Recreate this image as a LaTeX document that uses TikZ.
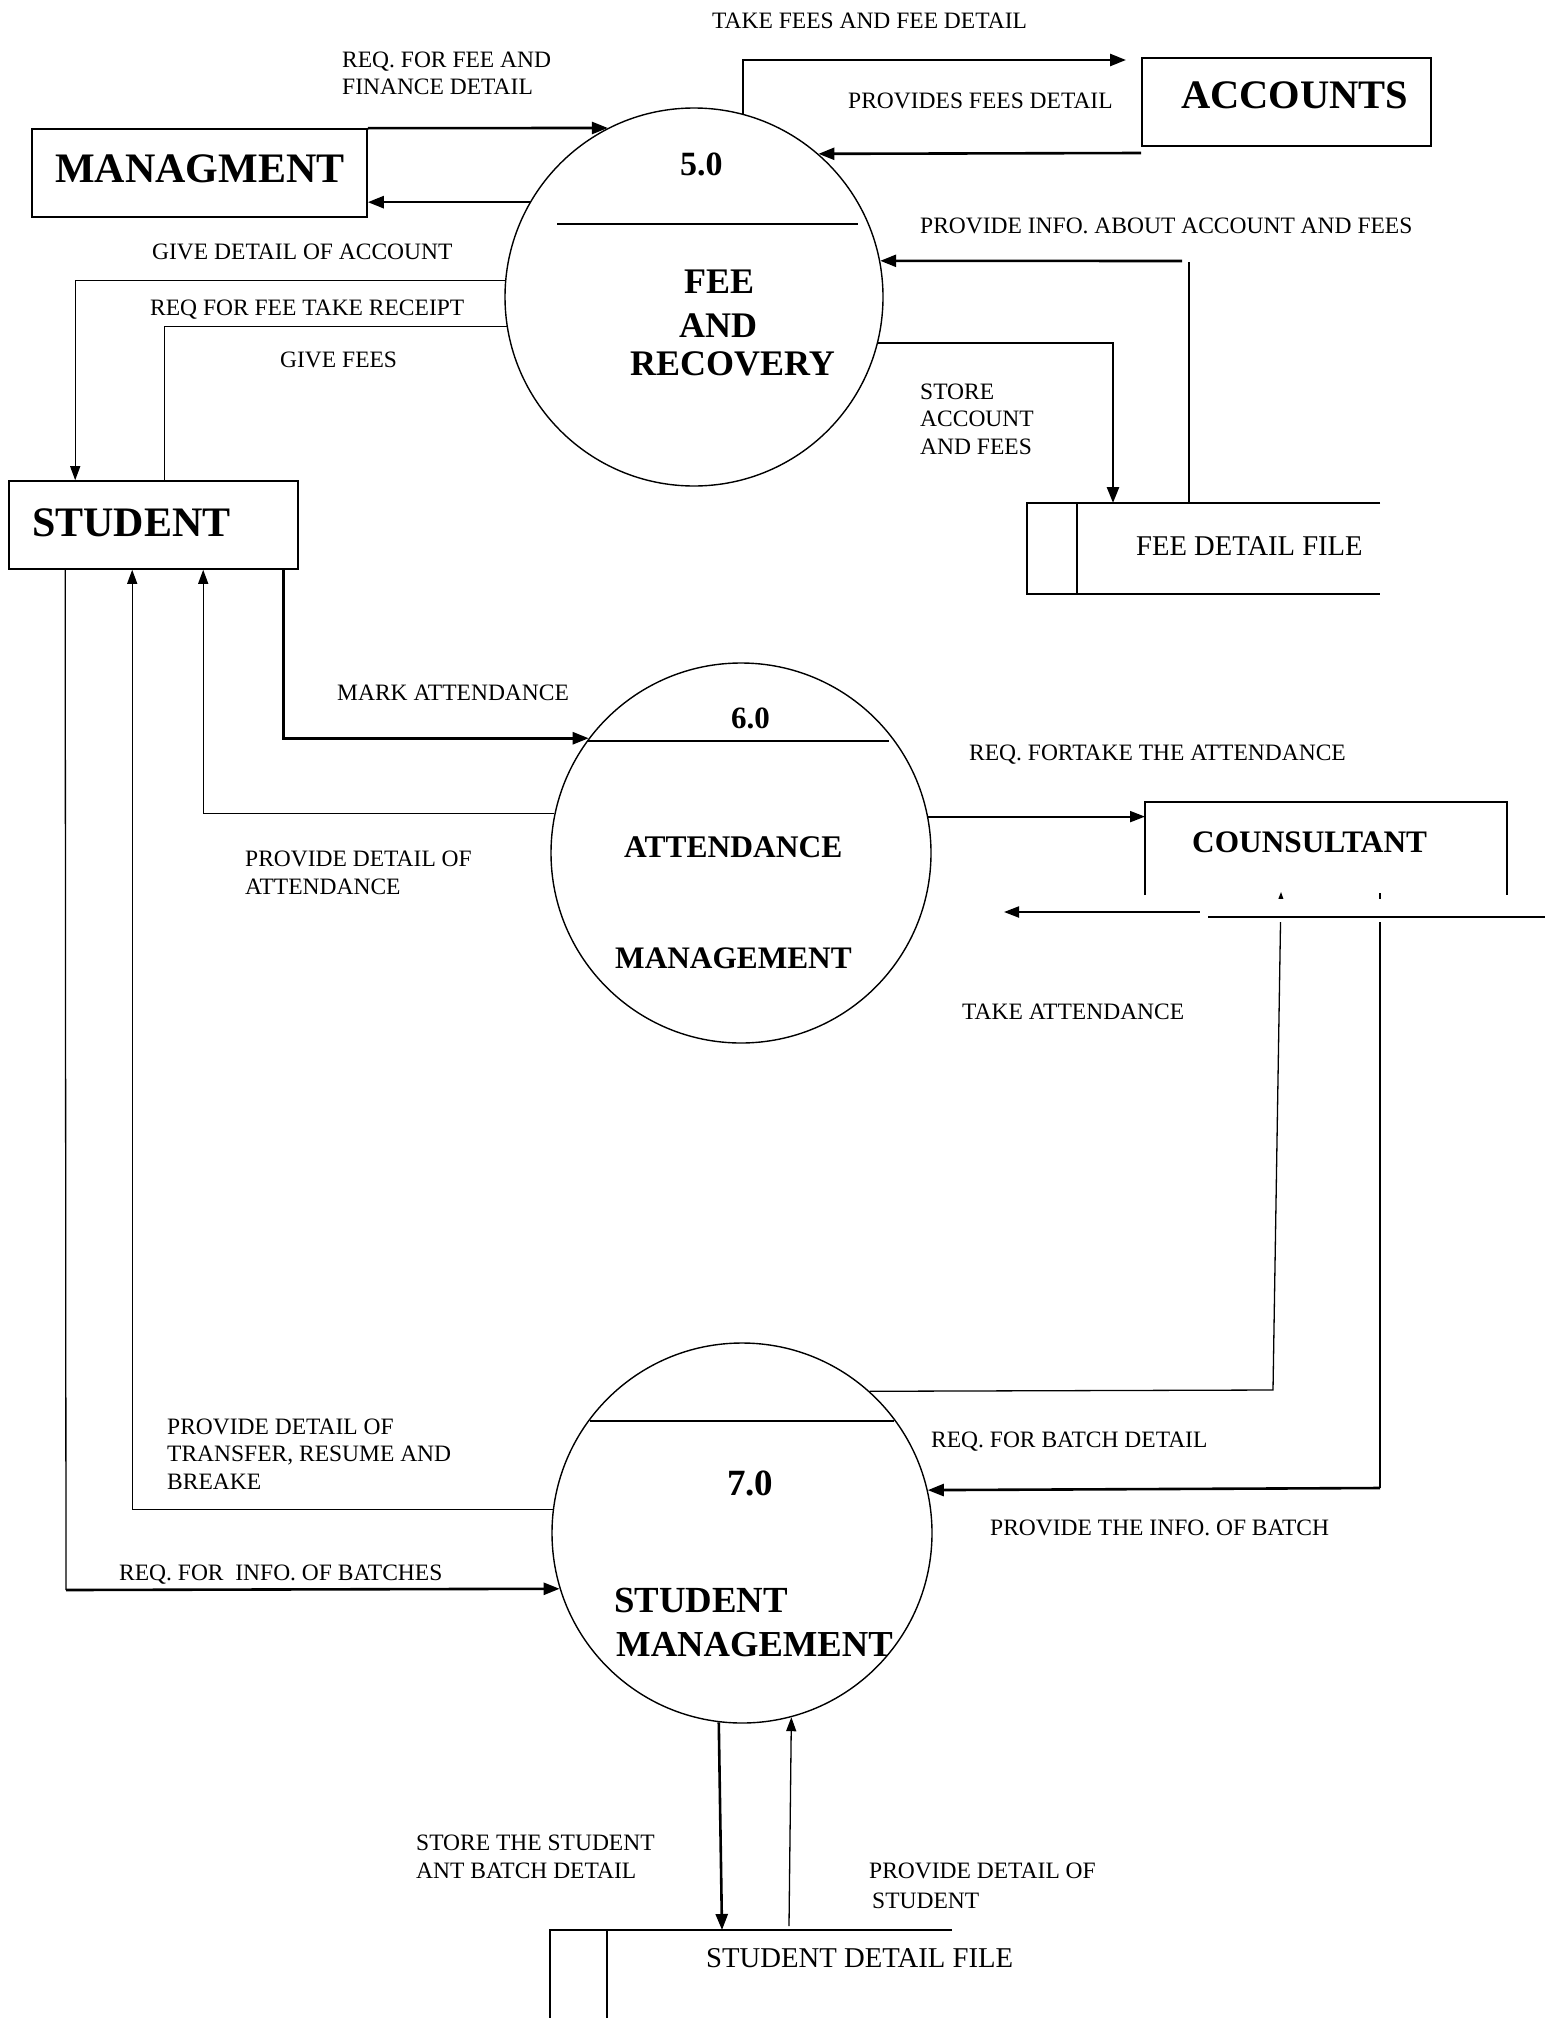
\documentclass[tikz,border=0pt]{standalone}
\usepackage{fontspec}
\setmainfont{Liberation Serif}
\usetikzlibrary{arrows.meta,calc}

\begin{document}
\begin{tikzpicture}[x=1pt,y=-1pt,
  % multi-line labels are placed by the baseline of their last line
  lbl/.style={inner sep=0pt, anchor=base west, align=left,
              font=\fontsize{23.5}{27.5}\selectfont},
  filetext/.style={inner sep=0pt, anchor=base west, font=\fontsize{28.6}{32}\selectfont},
  enttext/.style={inner sep=0pt, anchor=base west, font=\bfseries\fontsize{#1}{#1}\selectfont},
  entbox/.style={draw, line width=1.6pt, inner sep=0pt},
  shapeonly/.style={inner sep=0pt, outer sep=0pt},
  proc/.style={draw, circle, line width=1.4pt, inner sep=0pt},
  thinflow/.style={line width=1.3pt, -{Triangle[length=14pt,width=10pt]}},
  thinline/.style={line width=1.3pt},
  midflow/.style={line width=2pt, -{Triangle[length=15pt,width=11pt]}},
  heavyflow/.style={line width=2.6pt, -{Triangle[length=16pt,width=12pt]}},
  storeline/.style={line width=1.6pt},
]
\fill[white] (0,0) rectangle (1545,2018);
\useasboundingbox (0,0) rectangle (1545,2018);

% ---------- processes ----------
\node[proc, minimum size=378pt] (p5) at (694,297) {};
\node[proc, minimum size=380pt] (p6) at (741,853) {};
\node[proc, minimum size=380pt] (p7) at (742,1533) {};
\draw[thinline] (557,224) -- (858,224);
\draw[thinline] (587,741) -- (889,741);
\draw[thinline] (590,1421) -- (894,1421);

\node[enttext=34] (p5num) at (680,175) {5.0};
\node[enttext=36] (p5a) at (684,293) {FEE};
\node[enttext=36] (p5b) at (679,337) {AND};
\node[enttext=36] (p5c) at (630,375) {RECOVERY};

\node[enttext=31] (p6num) at (731,728) {6.0};
\node[enttext=31.5] (p6a) at (624,857) {ATTENDANCE};
\node[enttext=31.3] (p6b) at (615,968) {MANAGEMENT};

\node[enttext=37] (p7num) at (727,1495) {7.0};
\node[enttext=36.8] (p7a) at (614,1612) {STUDENT};
\node[enttext=36.6] (p7b) at (616,1656) {MANAGEMENT};

% ---------- external entities ----------
\node[entbox, minimum width=335pt, minimum height=88pt] (mgmt) at (199.5,173) {};
\node[enttext=42] (mgmtt) at (55,182) {MANAGMENT};

\node[entbox, minimum width=289pt, minimum height=88pt] (acc) at (1286.5,102) {};
\node[enttext=40.5] (acct) at (1181,108) {ACCOUNTS};

\node[entbox, minimum width=289pt, minimum height=88pt] (stud) at (153.5,525) {};
\node[enttext=42] (studt) at (32,536) {STUDENT};

\node[shapeonly, minimum width=362pt, minimum height=93pt] (couns) at (1326,848.5) {};
\node[enttext=31.3] (counst) at (1192,852) {COUNSULTANT};

% ---------- data stores ----------
\node[shapeonly, minimum width=353pt, minimum height=91pt] (feefile) at (1203.5,548.5) {};
\draw[storeline] (feefile.north east) -- (feefile.north west) -- (feefile.south west) -- (feefile.south east);
\draw[storeline] ($(feefile.north west)+(50,0)$) -- ($(feefile.south west)+(50,0)$);
\node[filetext] (feefilet) at (1136,555) {FEE DETAIL FILE};

\node[shapeonly, minimum width=402pt, minimum height=90pt] (studfile) at (751,1975) {};
\draw[storeline] (studfile.north east) -- (studfile.north west) -- (550,2018);
\draw[storeline] ($(studfile.north west)+(57,0)$) -- (607,2018);
\node[filetext, font=\fontsize{28.7}{32}\selectfont] (studfilet) at (706,1967) {STUDENT DETAIL FILE};

% ---------- flows around 5.0 ----------
\coordinate (accin) at (1126,60);
\draw[heavyflow] (p5.75.6) |- (accin);
\coordinate (accout) at (1141,153);
\draw[heavyflow] (accout) -- (p5.49.7);
\draw[heavyflow] (mgmt.north east) -- (p5.117.3);
\draw[heavyflow] (p5.150.5) -- (p5.150.5 -| mgmt.east);
\draw[thinflow] (p5.175.45) -| ($(stud.north west)+(67,0)$);
\draw[thinline] ($(stud.north west)+(156,0)$) |- (p5.189.75);
\draw[heavyflow] (p5.-14.1) -| ($(feefile.north west)+(86,0)$);
\coordinate (feeturn) at (1189,262);
\draw[thinline] ($(feefile.north west)+(162,0)$) -- (feeturn);
\coordinate (feeback) at (1182,261);
\draw[heavyflow] (feeback) -- (p5.11);

% ---------- flows around 6.0 ----------
\draw[heavyflow] ($(stud.south west)+(275,0)$) |- (p6.143.9);
\draw[thinflow] (p6.168.8) -| ($(stud.south west)+(195,0)$);
\draw[midflow] (p6.11.2) -- (p6.11.2 -| couns.west);
\coordinate (takeS) at (1209,912);
\coordinate (takeE) at (1004,912);
\draw[midflow] (takeS) -- (takeE);

% ---------- flows around 7.0 ----------
\coordinate (batchturn) at (1273,1390);
\coordinate (batchtop) at (1281,892);
\draw[thinflow] (p7.48.8) -- (batchturn) -- (batchtop);
\coordinate (infotop) at (1380,893);
\coordinate (infoturn) at (1380,1488);
\draw[thinline] (infotop) -- (infoturn);
\draw[heavyflow] (infoturn) -- (p7.13.7);
\draw[thinflow] (p7.173.35) -| ($(stud.south west)+(124,0)$);
\coordinate (batchcorner) at (66,1590);
\draw[thinline] ($(stud.south west)+(57,0)$) -- (batchcorner);
\draw[heavyflow] (batchcorner) -- (p7.197.5);
\draw[heavyflow] (p7.-97.9) -- ($(studfile.north west)+(172,0)$);
\draw[thinflow] ($(studfile.north west)+(239,-4)$) -- (p7.-75.7);

% ---------- counsultant outline ----------
\fill[white] (1200,899) rectangle (1545,922);
\draw[line width=1.5pt] (couns.south west) -- (couns.north west) -- (couns.north east) -- (couns.south east);
\draw[line width=1.8pt] (1208,917) -- (1545,917);

% ---------- flow labels ----------
\node[lbl] (l1) at (712,29) {TAKE FEES AND FEE DETAIL};
\node[lbl] (l2) at (342,95) {REQ. FOR FEE AND\\FINANCE DETAIL};
\node[lbl] (l3) at (848,108) {PROVIDES FEES DETAIL};
\node[lbl] (l4) at (152,259) {GIVE DETAIL OF ACCOUNT};
\node[lbl] (l5) at (920,233) {PROVIDE INFO. ABOUT ACCOUNT AND FEES};
\node[lbl] (l6) at (150,315) {REQ FOR FEE TAKE RECEIPT};
\node[lbl] (l7) at (280,367) {GIVE FEES};
\node[lbl] (l8) at (920,454) {STORE\\ACCOUNT\\AND FEES};
\node[lbl] (l9) at (337,700) {MARK ATTENDANCE};
\node[lbl] (l10) at (969,760) {REQ. FORTAKE THE ATTENDANCE};
\node[lbl] (l11) at (245,894) {PROVIDE DETAIL OF\\ATTENDANCE};
\node[lbl] (l12) at (962,1019) {TAKE ATTENDANCE};
\node[lbl] (l13) at (167,1489) {PROVIDE DETAIL OF\\TRANSFER, RESUME AND\\BREAKE};
\node[lbl] (l14) at (931,1447) {REQ. FOR BATCH DETAIL};
\node[lbl] (l15) at (990,1535) {PROVIDE THE INFO. OF BATCH};
\node[lbl] (l16) at (119,1580) {REQ. FOR \ INFO. OF BATCHES};
\node[lbl] (l17) at (416,1878) {STORE THE STUDENT\\ANT BATCH DETAIL};
\node[lbl, font=\fontsize{23.5}{30}\selectfont] (l18) at (869,1908) {PROVIDE DETAIL OF\\\hspace*{3pt}STUDENT};
\end{tikzpicture}
\end{document}
